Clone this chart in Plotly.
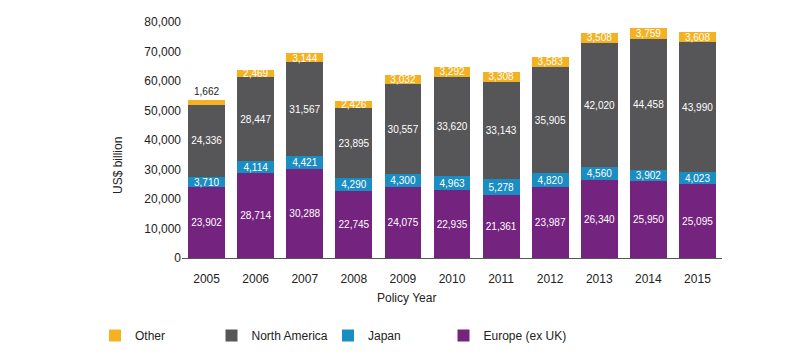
import plotly.graph_objects as go

years = ["2005", "2006", "2007", "2008", "2009", "2010", "2011", "2012", "2013", "2014", "2015"]
europe = [23902, 28714, 30288, 22745, 24075, 22935, 21361, 23987, 26340, 25950, 25095]
japan = [3710, 4114, 4421, 4290, 4300, 4963, 5278, 4820, 4560, 3902, 4023]
north_america = [24336, 28447, 31567, 23895, 30557, 33620, 33143, 35905, 42020, 44458, 43990]
other = [1662, 2469, 3144, 2426, 3032, 3292, 3308, 3583, 3508, 3759, 3608]
y_ticks = [0, 10000, 20000, 30000, 40000, 50000, 60000, 70000, 80000]

colors = {
    "Europe (ex UK)": "#74237F",
    "Japan": "#1A8DC2",
    "North America": "#565558",
    "Other": "#F4B222",
}

FONT = "Liberation Sans, Arial, sans-serif"

# page body has an 8px default margin; the figure is sized so that it fills the window
BODY = 8
W, H = 809 - BODY, 359 - BODY
PLOT_L, PLOT_R, PLOT_T, PLOT_B = 182, 722, 22, 258   # plot area in window pixels
PW, PH = PLOT_R - PLOT_L, PLOT_B - PLOT_T

def fmt(v):
    return f"{v:,}"

def px_x(x):
    return (x - PLOT_L) / PW

def px_y(y):
    return (PLOT_B - y) / PH

fig = go.Figure()
series = [("Europe (ex UK)", europe, "legend4", 443.5),
          ("Japan", japan, "legend3", 328),
          ("North America", north_america, "legend2", 211.5),
          ("Other", other, "legend", 95)]
for name, vals, leg, _ in series:
    if name == "Other":
        pos = ["outside" if v < 2000 else "inside" for v in vals]
        tcol = ["#222222" if v < 2000 else "white" for v in vals]
    else:
        pos = ["inside"] * len(vals)
        tcol = ["white"] * len(vals)
    fig.add_trace(go.Bar(
        name=name,
        x=years,
        y=vals,
        legend=leg,
        marker=dict(color=colors[name], line=dict(width=0)),
        text=[fmt(v) for v in vals],
        textposition=pos,
        insidetextanchor="middle",
        textangle=0,
        textfont=dict(color=tcol, size=11, family=FONT),
        outsidetextfont=dict(color="#222222", size=11, family=FONT),
        cliponaxis=False,
        hoverinfo="x+y+name",
    ))

legend_y = -63 / PH
legends = {}
for name, vals, leg, left in series:
    legends[leg] = dict(
        orientation="h",
        x=px_x(left),
        xanchor="left",
        y=legend_y,
        yanchor="top",
        font=dict(size=12, family=FONT, color="#222222"),
        itemclick=False,
        bgcolor="rgba(0,0,0,0)",
    )

fig.update_layout(
    barmode="stack",
    bargap=0.25,
    width=W,
    height=H,
    margin=dict(l=PLOT_L - BODY, r=809 - PLOT_R, t=PLOT_T - BODY, b=359 - PLOT_B, autoexpand=False),
    paper_bgcolor="white",
    plot_bgcolor="white",
    font=dict(family=FONT, size=12, color="#222222"),
    uniformtext=dict(minsize=10, mode="show"),
    xaxis=dict(
        automargin=False,
        showline=True,
        linecolor="#555555",
        linewidth=1,
        ticks="",
        ticklabelstandoff=10,
        tickfont=dict(size=12),
        showgrid=False,
    ),
    yaxis=dict(
        automargin=False,
        range=[0, 80000],
        tickvals=y_ticks,
        ticktext=[fmt(v) for v in y_ticks],
        showgrid=False,
        zeroline=False,
        showline=False,
        ticks="",
        tickfont=dict(size=12),
    ),
    showlegend=True,
    annotations=[
        dict(text="Policy Year", xref="paper", yref="paper", x=px_x(406), y=px_y(298),
             xanchor="center", yanchor="middle", showarrow=False, font=dict(size=12)),
        dict(text="US$ billion", xref="paper", yref="paper", x=px_x(118), y=px_y(166),
             xanchor="center", yanchor="middle", textangle=-90, showarrow=False, font=dict(size=12)),
    ],
    **legends,
)

fig.write_html("out.html")
